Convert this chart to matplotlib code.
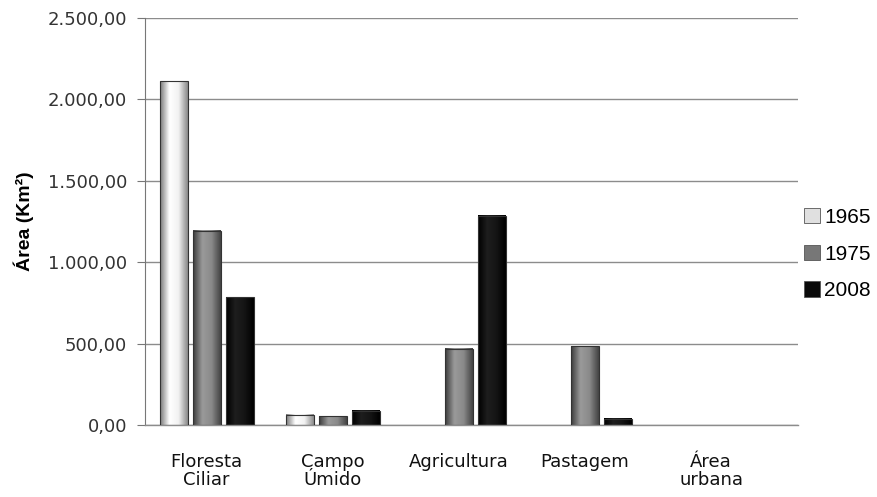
import numpy as np
import matplotlib
matplotlib.use("Agg")
import matplotlib.pyplot as plt
from matplotlib.colors import LinearSegmentedColormap

categories = ["Floresta\nCiliar", "Campo\nÚmido", "Agricultura", "Pastagem", "Área\nurbana"]
years = ["1965", "1975", "2008"]
v1965 = [2113, 62, 0, 0, 0]
v1975 = [1192, 55, 467, 485, 0]
v2008 = [786, 86, 1284, 39, 0]
yticks = [0, 500, 1000, 1500, 2000, 2500]
ytick_labels = ["0,00", "500,00", "1.000,00", "1.500,00", "2.000,00", "2.500,00"]

# cylinder-like shading for each series (left edge, middle, right edge)
shades = [
    ["#7a7a7a", "#ffffff", "#f2f2f2", "#8a8a8a"],
    ["#3c3c3c", "#9a9a9a", "#8a8a8a", "#444444"],
    ["#000000", "#1e1e1e", "#141414", "#000000"],
]
legend_colors = ["#e0e0e0", "#777777", "#0a0a0a"]

fig = plt.figure(figsize=(8.77, 4.97), dpi=100)
ax = fig.add_axes([0.1653, 0.1449, 0.7447, 0.8189])

x = np.arange(len(categories))
width = 0.222
step = 0.262
series = [v1965, v1975, v2008]
grad = np.linspace(0, 1, 64).reshape(1, -1)

for i, vals in enumerate(series):
    cmap = LinearSegmentedColormap.from_list("s%d" % i, shades[i])
    xs = x + (i - 1) * step
    bars = ax.bar(xs, vals, width, facecolor="none", edgecolor="#333333",
                  linewidth=0.8, zorder=3)
    for b in bars:
        h = b.get_height()
        if h <= 0:
            b.set_visible(False)
            continue
        x0 = b.get_x()
        ax.imshow(grad, cmap=cmap, aspect="auto", interpolation="bicubic",
                  extent=(x0, x0 + width, 0, h), zorder=2)
    # legend proxy
    ax.bar([np.nan], [np.nan], color=legend_colors[i], edgecolor="#555555",
           linewidth=0.6, label=years[i])

ax.set_xlim(-0.49, 4.69)
ax.set_ylim(0, 2500)
ax.set_yticks(yticks)
ax.set_yticklabels(ytick_labels, fontsize=13, color="#333333", family="DejaVu Sans")
ax.set_xticks(x)
ax.set_xticklabels(categories, fontsize=13, family="DejaVu Sans", va="top",
                   linespacing=1.05, color="#111111")
ax.tick_params(axis="x", length=0, pad=20)
ax.tick_params(axis="y", length=6, direction="out", color="#777777", pad=7)

ax.yaxis.grid(True, color="#8c8c8c", linewidth=1.0, zorder=0)
ax.set_axisbelow(True)
for s in ["top", "right"]:
    ax.spines[s].set_visible(False)
ax.spines["left"].set_color("#777777")
ax.spines["bottom"].set_color("#8c8c8c")
ax.spines["bottom"].set_linewidth(1.0)

ax.set_ylabel("Área (Km²)", fontsize=14, fontweight="bold", family="Liberation Sans",
              labelpad=10)

leg = ax.legend(loc="center left", bbox_to_anchor=(1.0, 0.42), frameon=False,
                handlelength=0.75, handleheight=0.75,
                handletextpad=0.2, labelspacing=0.85, borderaxespad=0.1,
                borderpad=0.2, prop={"family": "Liberation Sans", "size": 15})

fig.savefig("out.png", dpi=100)
